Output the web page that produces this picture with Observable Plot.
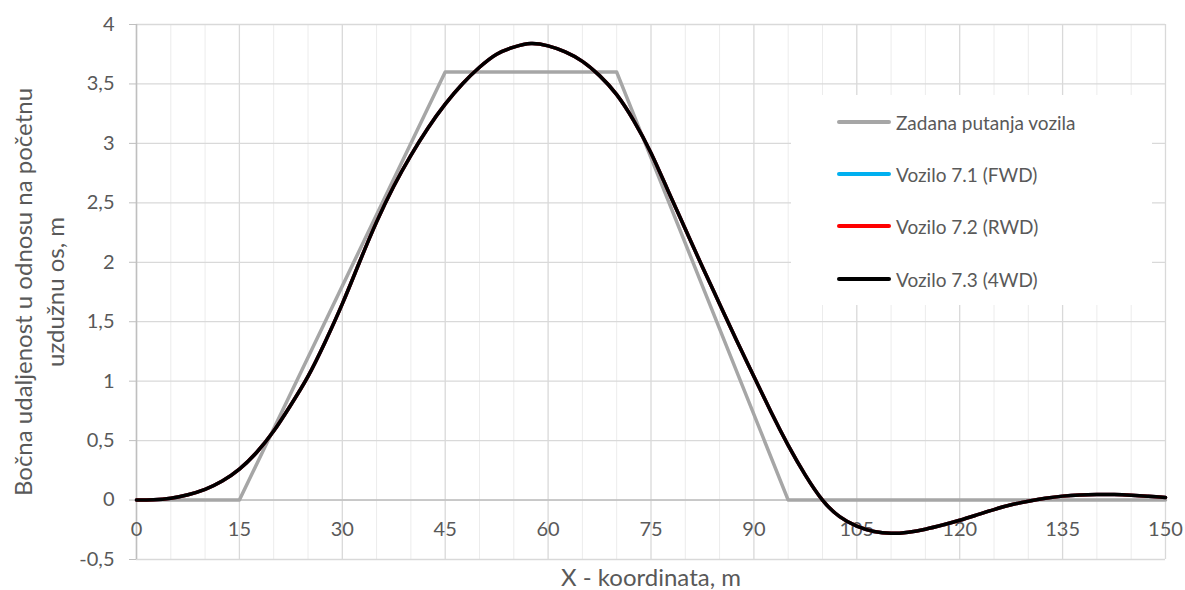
<!DOCTYPE html>
<html><head><meta charset="utf-8">
<script src="https://cdn.jsdelivr.net/npm/d3@7"></script>
<script src="https://cdn.jsdelivr.net/npm/@observablehq/plot@0.6"></script>
<style>
body{margin:0;background:#fff;}
#wrap{position:relative;width:1185px;height:590px;font-family:Lato,"Open Sans",sans-serif;}
#legend{position:absolute;left:791px;top:95px;width:361px;height:210px;background:#fff;}
.item{position:absolute;left:0;height:20px;display:flex;align-items:center;}
.item .sw{position:absolute;left:46px;width:54px;height:4px;border-radius:2px;}
.item .lb{position:absolute;left:105px;white-space:nowrap;font-size:19px;color:#595959;}
</style></head><body><div id="wrap"></div>
<script>
// ---- data ----
const xTicks = [0, 15, 30, 45, 60, 75, 90, 105, 120, 135, 150];
const xMinor = [5, 10, 20, 25, 35, 40, 50, 55, 65, 70, 80, 85, 95, 100, 110, 115, 125, 130, 140, 145];
const yTicks = [-0.5, 0, 0.5, 1, 1.5, 2, 2.5, 3, 3.5, 4];

const seriesNames = ["Zadana putanja vozila", "Vozilo 7.1 (FWD)", "Vozilo 7.2 (RWD)", "Vozilo 7.3 (4WD)"];
const seriesColors = ["#a6a6a6", "#00b0f0", "#ff0000", "#000000"];

// target path
const pathX = [0, 15, 45, 70, 95, 150];
const pathY = [0, 0, 3.6, 3.6, 0, 0];

// vehicle paths (sampled every 2.5 m)
const vx = [0, 2.5, 5, 7.5, 10, 12.5, 15, 17.5, 20, 22.5, 25, 27.5, 30, 32.5, 35, 37.5, 40, 42.5, 45, 47.5, 50,
  52.5, 55, 57.5, 60, 62.5, 65, 67.5, 70, 72.5, 75, 77.5, 80, 82.5, 85, 87.5, 90, 92.5, 95, 97.5, 100,
  102.5, 105, 107.5, 110, 112.5, 115, 117.5, 120, 122.5, 125, 127.5, 130, 132.5, 135, 137.5, 140, 142.5, 145, 147.5, 150];
const fwd = [0, 0.003, 0.016, 0.045, 0.09, 0.16, 0.26, 0.4, 0.58, 0.8, 1.04, 1.33, 1.65, 2.0, 2.34, 2.64, 2.9, 3.13, 3.33, 3.5, 3.64,
  3.75, 3.81, 3.84, 3.82, 3.77, 3.69, 3.57, 3.41, 3.19, 2.92, 2.6, 2.28, 1.96, 1.65, 1.34, 1.04, 0.74, 0.46, 0.21, 0.0,
  -0.14, -0.22, -0.265, -0.28, -0.27, -0.245, -0.21, -0.17, -0.125, -0.08, -0.04, -0.01, 0.015, 0.033, 0.043, 0.047, 0.046, 0.04, 0.031, 0.022];
const rwd = [0, 0.003, 0.016, 0.045, 0.09, 0.16, 0.26, 0.4, 0.58, 0.8, 1.04, 1.33, 1.65, 2.0, 2.34, 2.64, 2.9, 3.13, 3.33, 3.5, 3.64,
  3.75, 3.81, 3.84, 3.82, 3.77, 3.69, 3.57, 3.41, 3.19, 2.92, 2.6, 2.28, 1.96, 1.65, 1.34, 1.04, 0.74, 0.46, 0.21, 0.0,
  -0.14, -0.22, -0.265, -0.28, -0.27, -0.245, -0.21, -0.17, -0.125, -0.08, -0.04, -0.01, 0.015, 0.033, 0.043, 0.047, 0.046, 0.04, 0.031, 0.022];
const awd = [0, 0.003, 0.016, 0.045, 0.09, 0.16, 0.26, 0.4, 0.58, 0.8, 1.04, 1.33, 1.65, 2.0, 2.34, 2.64, 2.9, 3.13, 3.33, 3.5, 3.64,
  3.75, 3.81, 3.84, 3.82, 3.77, 3.69, 3.57, 3.41, 3.19, 2.92, 2.6, 2.28, 1.96, 1.65, 1.34, 1.04, 0.74, 0.46, 0.21, 0.0,
  -0.14, -0.22, -0.265, -0.28, -0.27, -0.245, -0.21, -0.17, -0.125, -0.08, -0.04, -0.01, 0.015, 0.033, 0.043, 0.047, 0.046, 0.04, 0.031, 0.022];

const xLabel = "X - koordinata, m";
const yLabel = "Bočna udaljenost u odnosu na početnu\nuzdužnu os, m";

// ---- build ----
const target = pathX.map((x, i) => ({x, y: pathY[i]}));
const mk = arr => vx.map((x, i) => ({x, y: arr[i]}));
const comma = d => String(d).replace(".", ",");

const chart = Plot.plot({
  width: 1185, height: 590,
  marginLeft: 136, marginRight: 20, marginTop: 24, marginBottom: 31,
  style: {fontFamily: "Lato, 'Open Sans', sans-serif", fontSize: "20px", color: "#595959", background: "#fff"},
  x: {domain: [0, 150]},
  y: {domain: [-0.5, 4]},
  marks: [
    Plot.ruleX(xMinor, {stroke: "#ececec", strokeWidth: 1}),
    Plot.ruleX(xTicks, {stroke: "#d9d9d9", strokeWidth: 1.3}),
    Plot.ruleY(yTicks, {stroke: "#d9d9d9", strokeWidth: 1.3}),
    Plot.ruleX([0], {stroke: "#bfbfbf", strokeWidth: 1.5}),
    Plot.ruleY([0], {stroke: "#bfbfbf", strokeWidth: 1.5}),
    Plot.axisY({ticks: yTicks, tickFormat: comma, tickSize: 7, tickPadding: 15, stroke: "#bfbfbf", fill: "#595959", label: null, fontSize: 20}),
    Plot.axisX({ticks: [], label: null, tickSize: 0}),
    Plot.text(xTicks, {x: d => d, y: d => 0, dy: 30, text: comma, fill: "#595959", fontSize: 20}),
    Plot.line(target, {x: "x", y: "y", stroke: seriesColors[0], strokeWidth: 3.5}),
    Plot.line(mk(fwd), {x: "x", y: "y", stroke: seriesColors[1], strokeWidth: 3.5, curve: "natural"}),
    Plot.line(mk(rwd), {x: "x", y: "y", stroke: seriesColors[2], strokeWidth: 3.5, curve: "natural"}),
    Plot.line(mk(awd), {x: "x", y: "y", stroke: seriesColors[3], strokeWidth: 3.5, curve: "natural"}),
    Plot.text([xLabel], {frameAnchor: "bottom", lineAnchor: "middle", dy: 19, fill: "#595959", fontSize: 24}),
    Plot.text([yLabel], {frameAnchor: "left", textAnchor: "middle", lineAnchor: "middle", dx: -99, rotate: -90, lineHeight: 1.35, fill: "#595959", fontSize: 24})
  ]
});
const wrap = document.getElementById("wrap");
wrap.appendChild(chart);

const leg = document.createElement("div");
leg.id = "legend";
const rows = [27, 79, 131, 184];
seriesNames.forEach((n, i) => {
  const it = document.createElement("div");
  it.className = "item";
  it.style.top = (rows[i] - 10) + "px";
  it.innerHTML = `<span class="sw" style="background:${seriesColors[i]}"></span><span class="lb">${n}</span>`;
  leg.appendChild(it);
});
wrap.appendChild(leg);
</script>
</body></html>
